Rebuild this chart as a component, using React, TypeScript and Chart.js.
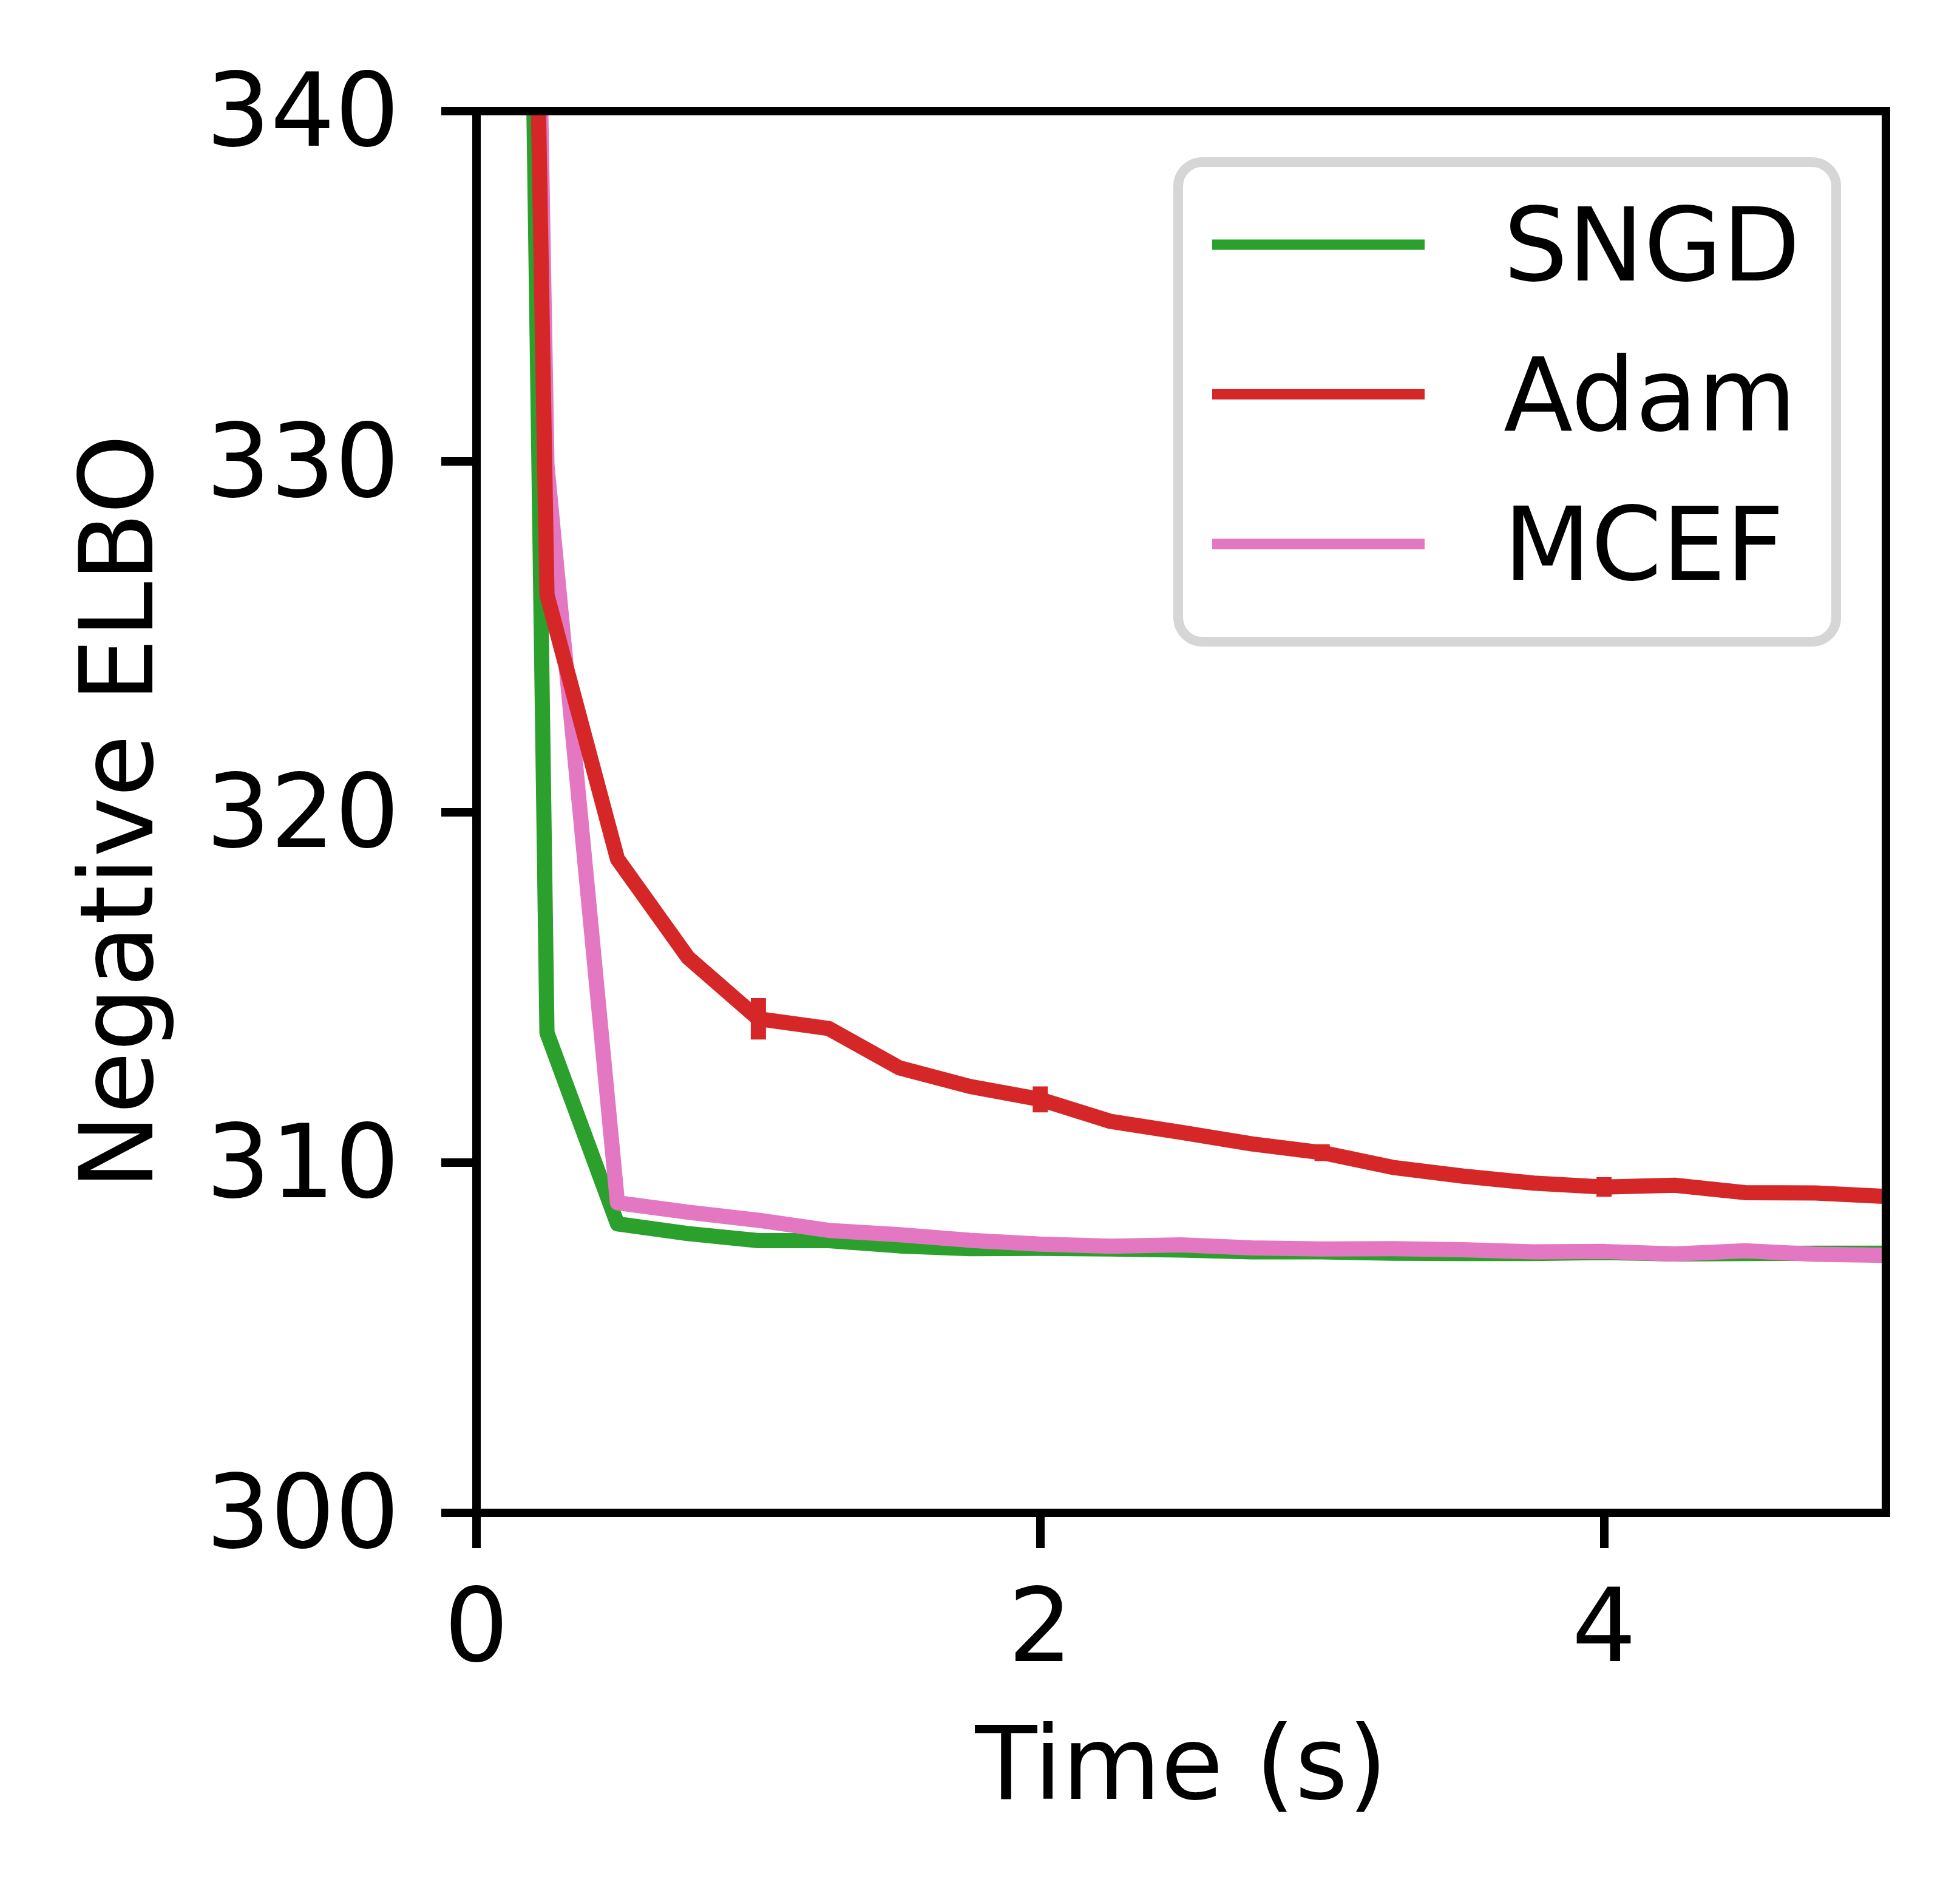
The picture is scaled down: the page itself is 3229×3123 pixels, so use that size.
import React, { useEffect, useRef } from 'react';
import { Chart, registerables } from 'chart.js';

Chart.register(...registerables);

// time axis (s) and negative ELBO per method
const timeS = [0, 0.25, 0.5, 0.75, 1, 1.25, 1.5, 1.75, 2, 2.25, 2.5, 2.75, 3, 3.25, 3.5, 3.75, 4, 4.25, 4.5, 4.75, 5];
const sngd = [456, 313.7, 308.25, 307.97, 307.77, 307.77, 307.62, 307.54, 307.55, 307.53, 307.5, 307.45, 307.45, 307.41, 307.4, 307.4, 307.43, 307.39, 307.4, 307.41, 307.41];
const adam = [441, 326.2, 318.66, 315.85, 314.1, 313.82, 312.7, 312.17, 311.8, 311.17, 310.86, 310.53, 310.28, 309.86, 309.61, 309.41, 309.3, 309.35, 309.14, 309.13, 309.03];
const mcef = [445, 329.9, 308.85, 308.58, 308.35, 308.06, 307.94, 307.78, 307.67, 307.61, 307.65, 307.56, 307.53, 307.54, 307.51, 307.45, 307.46, 307.39, 307.48, 307.38, 307.35];

// error bars on Adam
const adamErrTime = [1, 2, 3, 4];
const adamErr = [0.59, 0.37, 0.24, 0.28];

const xTicks = [0, 2, 4];
const yTicks = [300, 310, 320, 330, 340];

const FONT = '"DejaVu Sans", sans-serif';
const FS = 167;

const toPoints = (ys: number[]) => timeS.map((t, i) => ({ x: t, y: ys[i] }));

const errPoints = adamErrTime.flatMap((t, i) => {
    const y = adam[timeS.indexOf(t)];
    return [{ x: t, y: y - adamErr[i] }, { x: t, y: y + adamErr[i] }, { x: t, y: null }];
});

// the four spines, drawn over the lines like matplotlib does
const framePlugin = {
    id: 'frame',
    afterDatasetsDraw(chart: any) {
        const { ctx, chartArea: a } = chart;
        ctx.save();
        ctx.strokeStyle = '#000';
        ctx.lineWidth = 14;
        ctx.lineJoin = 'miter';
        ctx.strokeRect(a.left, a.top, a.right - a.left, a.bottom - a.top);
        ctx.restore();
    },
};

// legend box in the upper right of the axes
const legendPlugin = {
    id: 'legendBox',
    afterDraw(chart: any) {
        const ctx = chart.ctx;
        const items = chart.data.datasets.filter((d: any) => d.label);
        ctx.save();
        ctx.beginPath();
        ctx.roundRect(1941, 267, 1084, 790, 40);
        ctx.fillStyle = '#ffffff';
        ctx.fill();
        ctx.lineWidth = 16;
        ctx.strokeStyle = '#d6d6d6';
        ctx.stroke();
        ctx.font = `${FS}px ${FONT}`;
        ctx.textBaseline = 'alphabetic';
        ctx.textAlign = 'left';
        items.forEach((d: any, i: number) => {
            const y = 403 + i * 246.5;
            ctx.beginPath();
            ctx.moveTo(1997, y);
            ctx.lineTo(2347, y);
            ctx.lineWidth = 17;
            ctx.lineCap = 'butt';
            ctx.strokeStyle = d.borderColor;
            ctx.stroke();
            ctx.fillStyle = '#000';
            ctx.fillText(d.label, 2477, y + 59);
        });
        ctx.restore();
    },
};

const App: React.FC = () => {
    const canvasRef = useRef<HTMLCanvasElement>(null);
    const chartRef = useRef<Chart | null>(null);

    useEffect(() => {
        document.body.style.margin = '0';
        if (!canvasRef.current) return;
        if (chartRef.current) chartRef.current.destroy();

        const line = { pointRadius: 0, borderWidth: 25, tension: 0, borderJoinStyle: 'round' as const, fill: false };

        chartRef.current = new Chart(canvasRef.current, {
            type: 'line',
            data: {
                datasets: [
                    { ...line, label: 'SNGD', data: toPoints(sngd), borderColor: '#2ca02c', order: 3 },
                    { ...line, label: 'Adam', data: toPoints(adam), borderColor: '#d62728', order: 1 },
                    { ...line, label: 'MCEF', data: toPoints(mcef), borderColor: '#e377c2', order: 2 },
                    { label: '', data: errPoints as any, borderColor: '#d62728', borderWidth: 25, pointRadius: 0, borderCapStyle: 'butt', spanGaps: false, order: 0 },
                ],
            },
            options: {
                animation: false,
                responsive: true,
                maintainAspectRatio: false,
                devicePixelRatio: 1,
                parsing: { xAxisKey: 'x', yAxisKey: 'y' },
                layout: { padding: { top: 183, right: 122, bottom: 0, left: 0 } },
                plugins: { legend: { display: false }, tooltip: { enabled: false } },
                scales: {
                    x: {
                        type: 'linear',
                        min: 0,
                        max: 5,
                        afterBuildTicks: (axis: any) => { axis.ticks = xTicks.map((v) => ({ value: v })); },
                        afterFit: (axis: any) => { axis.height = 631; },
                        border: { display: false },
                        grid: { display: true, drawOnChartArea: false, drawTicks: true, tickLength: 58, tickWidth: 14, tickColor: '#000', lineWidth: 14 },
                        ticks: { autoSkip: false, maxRotation: 0, minRotation: 0, padding: 42, color: '#000', font: { family: FONT, size: FS } },
                        title: { display: true, text: 'Time (s)', color: '#000', font: { family: FONT, size: FS }, padding: { top: 0, bottom: 103 } },
                    },
                    y: {
                        type: 'linear',
                        min: 300,
                        max: 340,
                        afterBuildTicks: (axis: any) => { axis.ticks = yTicks.map((v) => ({ value: v })); },
                        afterFit: (axis: any) => { axis.width = 785; },
                        border: { display: false },
                        grid: { display: true, drawOnChartArea: false, drawTicks: true, tickLength: 58, tickWidth: 14, tickColor: '#000', lineWidth: 14 },
                        ticks: { autoSkip: false, padding: 69, labelOffset: 14, color: '#000', font: { family: FONT, size: FS } },
                        title: { display: true, text: 'Negative ELBO', color: '#000', font: { family: FONT, size: FS }, padding: { top: 107, bottom: 0 } },
                    },
                },
            },
            plugins: [framePlugin, legendPlugin],
        });

        return () => {
            if (chartRef.current) {
                chartRef.current.destroy();
                chartRef.current = null;
            }
        };
    }, []);

    return (
        <div style={{ position: 'relative', width: 3229, height: 3123, background: '#fff' }}>
            <canvas ref={canvasRef}></canvas>
        </div>
    );
};

export default App;
